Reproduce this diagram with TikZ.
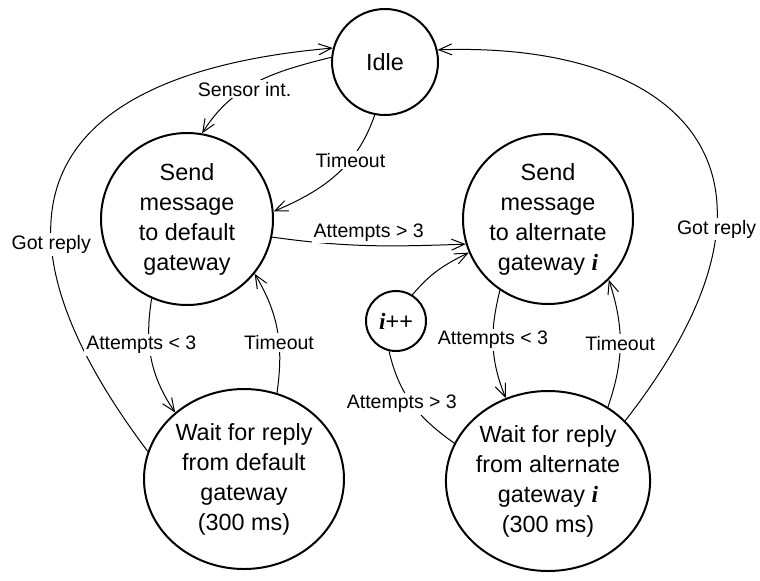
\documentclass[tikz,border=0pt]{standalone}
\usepackage{fontspec}
\setmainfont{Liberation Sans}
\newfontfamily\gwfont{Liberation Serif}
\usetikzlibrary{positioning,arrows.meta,shapes.geometric}
\newcommand{\gwi}{{\gwfont\bfseries\itshape i}}
\tikzset{state node/.style={circle,draw,line width=1pt,inner sep=0pt,align=center,font=\fontsize{11.7}{15}\selectfont},
  wait node/.style={ellipse,draw,line width=1pt,inner sep=0pt,minimum width=100pt,minimum height=90pt,align=center,font=\fontsize{11.7}{15}\selectfont},
  lbl/.style={fill=white,inner sep=1pt,font=\fontsize{9.75}{12}\selectfont} }

\begin{document}
\begin{tikzpicture}[>={Straight Barb[length=6.5pt,width=5.5pt]}]
\useasboundingbox (0,0) rectangle (380pt,-290pt);
\begin{scope}[on grid]

  \node[state node,minimum size=53pt] (idle) at (192.5pt,-31pt) {Idle};
  \node[state node,minimum size=86pt] (senddef) [below left=78.5pt and 99pt of idle] {Send\\message\\to default\\gateway};
  \node[state node,minimum size=85pt] (sendalt) [right=180.5pt of senddef] {Send\\message\\to alternate\\gateway \gwi};
  \node[wait node] (waitdef) [below right=130pt and 28.5pt of senddef] {Wait for reply\\from default\\gateway\\(300 ms)};
  \node[wait node] (waitalt) [below=131pt of sendalt] {Wait for reply\\from alternate\\gateway \gwi\\(300 ms)};
  \node[state node,minimum size=30pt] (inc) [below left=51pt and 76pt of sendalt] {\gwi++};

    \path[every edge/.style={draw,line width=0.5pt}]
    (idle.175) edge [->, out=194, in=58] node[lbl,pos=0.6] {Sensor int.} (senddef.80)
    (idle.259) edge [->, out=251, in=23] node[lbl,pos=0.35] {Timeout} (senddef.5)
    (waitdef.164) edge [->, out=127, in=185, looseness=1.7] node[lbl,pos=0.34] {Got reply} (idle.165)
    (waitalt.38) edge [->, out=52, in=2, out looseness=1.95, in looseness=1.5] node[lbl,pos=0.3] {Got reply} (idle.13)
    (senddef.348) edge [->, out=-8, in=182] node[lbl,above=1pt] {Attempts > 3} (sendalt.197)
    (inc.58) edge [->, out=50, in=206] (sendalt.203)
    (waitalt.158) edge [-, out=145, in=-77] node[lbl,xshift=-5pt] {Attempts > 3} (inc.257)
    (senddef.246) edge [->, out=261, in=124] node[lbl,pos=0.38,xshift=-4pt] {Attempts < 3} (waitdef.136)
    (waitdef.69) edge [->, out=82, in=-59] node[lbl,pos=0.4] {Timeout} (senddef.321)
    (sendalt.236) edge [->, out=256, in=112] node[lbl,pos=0.45] {Attempts < 3} (waitalt.117)
    (waitalt.51) edge [->, out=71, in=-72] node[lbl] {Timeout} (sendalt.315)

    ;
    \end{scope}
\end{tikzpicture}
\end{document}
